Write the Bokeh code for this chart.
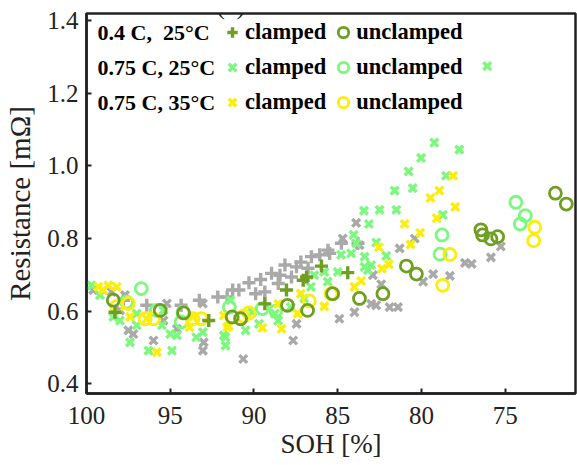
from bokeh.plotting import figure
from bokeh.models import Range1d, FixedTicker, Label, Legend, LegendItem, CustomJSTickFormatter
from bokeh.embed import file_html
from bokeh.resources import INLINE

# ---------------- data (SOH [%], Resistance [mOhm]) ----------------
gray_plus_x = [97.8, 96.4, 94.35, 93.26, 92.16, 91.6, 91.27, 90.9, 90.3, 89.9, 89.6, 89.35,
               88.95, 88.55, 88.45, 88.15, 87.76, 87.46, 87.2, 86.77, 86.57, 86.07, 85.58,
               85.48, 84.78, 83.79]
gray_plus_y = [0.63, 0.616, 0.616, 0.63, 0.639, 0.639, 0.658, 0.658, 0.678, 0.648, 0.687,
               0.653, 0.704, 0.676, 0.699, 0.727, 0.694, 0.722, 0.735, 0.718, 0.75, 0.755,
               0.768, 0.759, 0.787, 0.787]

gray_x_x = [99.6, 98.5, 98.0, 97.7, 97.5, 97.2, 96.0, 95.4, 95.2, 94.6, 93.05, 93.0, 93.05,
            90.64, 87.66, 87.46, 84.9, 84.0, 83.0, 82.7, 81.9, 81.4, 82.4, 82.9, 79.9, 79.3,
            78.3, 77.4, 81.3, 80.4, 83.9, 84.7, 83.7, 77.0, 75.85, 75.26]
gray_x_y = [0.658, 0.653, 0.602, 0.644, 0.547, 0.537, 0.519, 0.574, 0.621, 0.551, 0.621,
            0.514, 0.491, 0.468, 0.519, 0.565, 0.579, 0.597, 0.62, 0.616, 0.611, 0.611,
            0.674, 0.699, 0.681, 0.702, 0.697, 0.733, 0.773, 0.80, 0.843, 0.80, 0.782,
            0.73, 0.748, 0.778]

c04_25_clamped_x = [98.3, 92.7, 89.35, 88.06, 87.06, 86.86, 85.97, 84.4]
c04_25_clamped_y = [0.597, 0.574, 0.62, 0.658, 0.685, 0.694, 0.724, 0.706]

c04_25_unclamped_x = [98.4, 95.6, 94.2, 91.3, 90.8, 88.0, 86.8, 85.3, 83.7, 82.3, 80.9, 80.3,
                      76.45, 76.35, 75.85, 75.45, 72.0, 71.35]
c04_25_unclamped_y = [0.63, 0.602, 0.595, 0.584, 0.579, 0.616, 0.602, 0.648, 0.635, 0.648,
                      0.724, 0.702, 0.824, 0.81, 0.799, 0.805, 0.925, 0.895]

c075_25_clamped_x = [99.7, 99.2, 98.4, 98.0, 97.4, 97.0, 97.0, 96.3, 95.5, 95.4, 95.0, 94.9,
                     94.6, 93.45, 93.05, 91.8, 91.7, 91.7, 91.4, 90.5, 90.1, 89.7, 88.75, 88.55,
                     87.8, 87.0, 86.6, 86.4, 85.8, 85.6, 85.0, 84.8, 84.2, 83.9, 83.4, 83.2,
                     83.0, 84.05, 83.43, 83.14, 82.7, 82.5, 82.1, 81.6, 81.5, 80.77, 80.52,
                     80.02, 79.23, 78.73, 78.53, 77.74, 83.4, 76.07]
c075_25_clamped_y = [0.671, 0.644, 0.584, 0.574, 0.514, 0.561, 0.593, 0.491, 0.561, 0.602,
                     0.537, 0.491, 0.533, 0.528, 0.542, 0.533, 0.505, 0.528, 0.63, 0.547,
                     0.597, 0.565, 0.593, 0.574, 0.611, 0.635, 0.667, 0.699, 0.708, 0.681,
                     0.708, 0.755, 0.759, 0.787, 0.75, 0.713, 0.727, 0.81, 0.877, 0.84,
                     0.789, 0.879, 0.752, 0.932, 0.879, 0.985, 0.939, 1.022, 1.064, 0.865,
                     0.973, 1.045, 0.722, 1.275]

c075_25_unclamped_x = [97.6, 96.73, 95.83, 94.24, 94.35, 91.47, 89.5, 88.7, 78.77, 78.89,
                       74.36, 73.8, 74.1]
c075_25_unclamped_y = [0.625, 0.662, 0.602, 0.597, 0.57, 0.611, 0.607, 0.60, 0.81, 0.757,
                       0.90, 0.863, 0.84]

c075_35_clamped_x = [99.3, 99.0, 98.7, 98.2, 97.4, 96.4, 95.8, 93.85, 93.65, 91.8, 91.6, 91.5,
                     89.5, 88.55, 88.35, 87.4, 87.2, 85.8, 84.0, 83.6, 82.36, 81.95, 82.54,
                     80.65, 80.08, 81.0, 79.09, 77.98, 79.46, 78.93, 78.1]
c075_35_clamped_y = [0.667, 0.658, 0.671, 0.667, 0.584, 0.579, 0.487, 0.556, 0.584, 0.588,
                     0.556, 0.558, 0.554, 0.62, 0.551, 0.593, 0.648, 0.613, 0.667, 0.683,
                     0.717, 0.729, 0.776, 0.784, 0.816, 0.84, 0.856, 0.887, 0.912, 0.932,
                     0.973]

c075_35_unclamped_x = [98.2, 97.5, 96.5, 96.0, 93.65, 93.15, 90.64, 90.3, 86.7, 85.4, 78.3,
                       78.73, 73.23, 73.3]
c075_35_unclamped_y = [0.613, 0.621, 0.579, 0.579, 0.579, 0.579, 0.586, 0.595, 0.628, 0.648,
                       0.756, 0.671, 0.831, 0.794]

x_ticks = [100, 95, 90, 85, 80, 75]
y_ticks = [0.4, 0.6, 0.8, 1.0, 1.2, 1.4]
row_headers = ["0.4 C,\u00a0 25°C", "0.75 C, 25°C", "0.75 C, 35°C"]

# ---------------- styling ----------------
GRAY = "#a9a9a9"
OLIVE = "#6f9f22"
LGREEN = "#7cf87f"
YELLOW = "#fbee0c"
SERIF = "Liberation Serif"
INK = "#222222"

p = figure(width=577, height=465, output_backend="svg", toolbar_location=None,
           x_range=Range1d(100, 70.8), y_range=Range1d(0.373, 1.42),
           min_border_left=86, min_border_right=2, min_border_top=13, min_border_bottom=72)
p.background_fill_color = "white"
p.border_fill_color = "white"
p.grid.visible = False
p.outline_line_color = INK
p.outline_line_width = 2.5

xax = p.below[0]
yax = p.left[0]
for ax in (xax, yax):
    ax.axis_line_color = INK
    ax.axis_line_width = 2.5
    ax.major_tick_in = 5
    ax.major_tick_out = 0
    ax.major_tick_line_width = 2
    ax.major_tick_line_color = INK
    ax.minor_tick_line_color = None
    ax.major_label_text_font = SERIF
    ax.major_label_text_font_size = "25px"
    ax.major_label_text_color = INK
    ax.axis_label_text_font = SERIF
    ax.axis_label_text_font_style = "normal"
    ax.axis_label_text_color = INK

xax.ticker = FixedTicker(ticks=x_ticks)
yax.ticker = FixedTicker(ticks=y_ticks)
yax.formatter = CustomJSTickFormatter(code="return tick.toFixed(1);")
xax.axis_label = "SOH [%]"
yax.axis_label = "Resistance [mΩ]"
xax.axis_label_text_font_size = "27px"
yax.axis_label_text_font_size = "29px"
xax.major_label_standoff = 13
xax.axis_label_standoff = 2
yax.major_label_standoff = 8
yax.axis_label_standoff = 8

# ---------------- scatter series ----------------
p.scatter(gray_plus_x, gray_plus_y, marker="cross", size=13, line_color=GRAY, line_width=3.4)
p.scatter(gray_x_x, gray_x_y, marker="x", size=11, line_color=GRAY, line_width=3.4)
g_cl = p.scatter(c075_25_clamped_x, c075_25_clamped_y, marker="x", size=11,
                 line_color=LGREEN, line_width=3.4)
g_un = p.scatter(c075_25_unclamped_x, c075_25_unclamped_y, marker="circle", size=12,
                 line_color=LGREEN, fill_color=None, line_width=2.8)
y_cl = p.scatter(c075_35_clamped_x, c075_35_clamped_y, marker="x", size=11,
                 line_color=YELLOW, line_width=3.4)
y_un = p.scatter(c075_35_unclamped_x, c075_35_unclamped_y, marker="circle", size=12,
                 line_color=YELLOW, fill_color=None, line_width=2.8)
o_cl = p.scatter(c04_25_clamped_x, c04_25_clamped_y, marker="cross", size=13,
                 line_color=OLIVE, line_width=3.4)
o_un = p.scatter(c04_25_unclamped_x, c04_25_unclamped_y, marker="circle", size=12,
                 line_color=OLIVE, fill_color=None, line_width=2.8)

# ---------------- custom legend (3 rows) ----------------
rows = [(o_cl, o_un), (g_cl, g_un), (y_cl, y_un)]
row_centers = [361, 326, 291]  # screen px from frame bottom
for (rc, ru), header, yc in zip(rows, row_headers, row_centers):
    lg = Legend(items=[LegendItem(label="clamped", renderers=[rc]),
                       LegendItem(label="unclamped", renderers=[ru])],
                orientation="horizontal", location=(133, yc - 13),
                glyph_width=26, glyph_height=26, label_standoff=-3, spacing=4,
                padding=0, margin=0, label_height=26,
                label_text_font=SERIF, label_text_font_style="bold",
                label_text_font_size="22.5px", label_text_color="black",
                border_line_alpha=0, background_fill_alpha=0)
    p.add_layout(lg)
    p.add_layout(Label(x=11, y=yc, x_units="screen", y_units="screen", text=header,
                       text_baseline="middle", text_font=SERIF, text_font_style="bold",
                       text_font_size="22px", text_color="black"))

# title above the box; only its lower edge shows, cut by the page top as in the reference
p.add_layout(Label(x=214, y=388, x_units="screen", y_units="screen", text="(a) SOH vs PLS",
                   text_align="center", text_baseline="alphabetic", text_font=SERIF,
                   text_font_size="26px", text_color=INK))

open("out.html", "w").write(file_html(p, INLINE))
